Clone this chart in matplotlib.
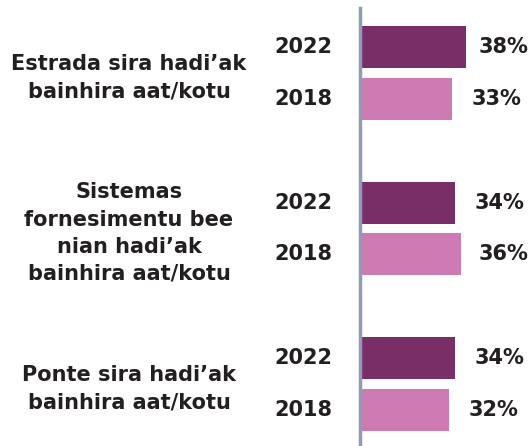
import matplotlib
matplotlib.use("Agg")
import matplotlib.pyplot as plt
import matplotlib.transforms as mtransforms

# data
categories = ["Estrada sira hadi\u2019ak\nbainhira aat/kotu",
              "Sistemas\nfornesimentu bee\nnian hadi\u2019ak\nbainhira aat/kotu",
              "Ponte sira hadi\u2019ak\nbainhira aat/kotu"]
years = ["2022", "2018"]
values_2022 = [38, 34, 34]
values_2018 = [33, 36, 32]

col_2022 = "#7A2E68"
col_2018 = "#CE7BB4"
txt_col = "#231F20"

plt.rcParams['font.family'] = ['DejaVu Sans']

fig = plt.figure(figsize=(5.32, 4.46), dpi=100)
ax = fig.add_axes([360/532, 0, 172/532, 438/446])

off = 0.167
h = 0.27
ypos = list(range(len(categories)))
ax.barh([y - off for y in ypos], values_2022, height=h, color=col_2022)
ax.barh([y + off for y in ypos], values_2018, height=h, color=col_2018)

ax.set_xlim(0, 61.6)
ax.set_ylim(2.399, -0.418)
for s in ["top", "right", "bottom"]:
    ax.spines[s].set_visible(False)
ax.spines["left"].set_color("#8E9CB6")
ax.spines["left"].set_linewidth(2.5)
ax.set_xticks([])
ax.set_yticks([])

fs = 15
trans = mtransforms.blended_transform_factory(fig.transFigure, ax.transData)
for i, y in enumerate(ypos):
    # value labels, kept inside the figure
    ax.text(min(values_2022[i] + 7, 42.5), y - off, f"{values_2022[i]}%", va="center", ha="left",
            fontsize=fs, fontweight="bold", color=txt_col)
    ax.text(min(values_2018[i] + 7, 42.5), y + off, f"{values_2018[i]}%", va="center", ha="left",
            fontsize=fs, fontweight="bold", color=txt_col)
    ax.text(332/532, y - off, years[0], transform=trans, va="center", ha="right",
            fontsize=fs, fontweight="bold", color=txt_col)
    ax.text(332/532, y + off, years[1], transform=trans, va="center", ha="right",
            fontsize=fs, fontweight="bold", color=txt_col)
    ax.text(129/532, y + 0.03, categories[i], transform=trans, va="center", ha="center",
            fontsize=fs, fontweight="bold", color=txt_col, linespacing=1.45)

fig.savefig("out.png", dpi=100)
